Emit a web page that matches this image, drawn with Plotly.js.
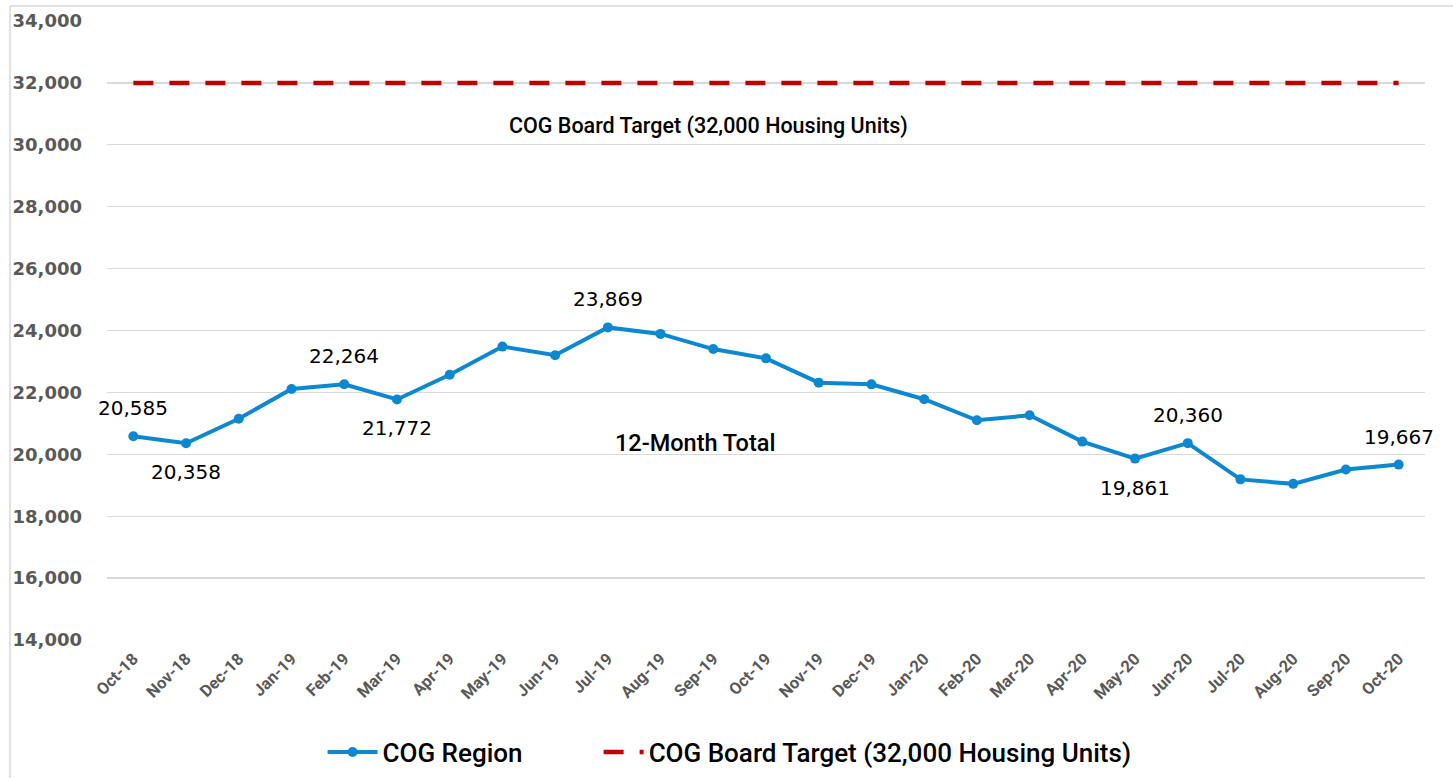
<!DOCTYPE html>
<html>
<head>
<meta charset="utf-8">
<script src="https://cdn.plot.ly/plotly-3.0.1.min.js"></script>
<style>
html,body{margin:0;padding:0;background:#fff;}
#chart{width:1453px;height:781px;}
</style>
</head>
<body>
<div id="chart"></div>
<script>
var months = ["Oct-18","Nov-18","Dec-18","Jan-19","Feb-19","Mar-19","Apr-19","May-19","Jun-19","Jul-19","Aug-19","Sep-19","Oct-19","Nov-19","Dec-19","Jan-20","Feb-20","Mar-20","Apr-20","May-20","Jun-20","Jul-20","Aug-20","Sep-20","Oct-20"];
var cogRegion = [20585,20358,21150,22110,22264,21772,22570,23480,23200,24100,23890,23400,23100,22315,22260,21780,21100,21260,20410,19861,20360,19190,19045,19510,19667];
var boardTarget = [32000,32000,32000,32000,32000,32000,32000,32000,32000,32000,32000,32000,32000,32000,32000,32000,32000,32000,32000,32000,32000,32000,32000,32000,32000];
var labelMonths = ["Oct-18","Nov-18","Feb-19","Mar-19","Jul-19","May-20","Jun-20","Oct-20"];
var labelTexts = ["20,585","20,358","22,264","21,772","23,869","19,861","20,360","19,667"];
var labelSides = ["above","below","above","below","above","below","above","above"];
var yTicks = [14000,16000,18000,20000,22000,24000,26000,28000,30000,32000,34000];

var traces = [
  {
    x: months, y: cogRegion, name: "COG Region", type: "scatter", mode: "lines+markers",
    line: {color: "#0d88d0", width: 4},
    marker: {color: "#0d88d0", size: 10},
    hoverinfo: "x+y", legend: "legend"
  },
  {
    x: months, y: boardTarget, name: "COG Board Target (32,000 Housing Units)", type: "scatter", mode: "lines",
    line: {color: "#c00000", width: 4.5, dash: "20px,16px"},
    hoverinfo: "x+y", legend: "legend2"
  }
];

var annotations = labelMonths.map(function(m, i){
  var idx = months.indexOf(m);
  return {
    x: m, y: cogRegion[idx], xref: "x", yref: "y",
    text: labelTexts[i], showarrow: false,
    yshift: labelSides[i] === "above" ? 28 : -29,
    font: {family: "DejaVu Sans", size: 20, color: "#000"}
  };
});
annotations.push({
  x: 10.9, y: 30600, xref: "x", yref: "y", text: "COG Board Target (32,000 Housing Units)",
  showarrow: false, font: {family: "Roboto", size: 21.5, color: "#000", weight: 500}
});
annotations.push({
  x: 10.65, y: 20360, xref: "x", yref: "y", text: "12-Month Total",
  showarrow: false, font: {family: "Roboto", size: 23.5, color: "#000", weight: 500}
});

var legendFont = {family: "Roboto", size: 26, color: "#000", weight: 500};

var layout = {
  width: 1453, height: 781,
  margin: {l: 107, r: 28, t: 21, b: 141, pad: 0},
  paper_bgcolor: "#fff", plot_bgcolor: "#fff",
  showlegend: true,
  legend: {
    orientation: "h", xref: "container", yref: "container",
    x: 0.222, xanchor: "left", y: 0.037, yanchor: "middle",
    font: legendFont, itemwidth: 50
  },
  legend2: {
    orientation: "h", xref: "container", yref: "container",
    x: 0.412, xanchor: "left", y: 0.037, yanchor: "middle",
    font: legendFont, itemwidth: 40
  },
  xaxis: {
    type: "category", range: [-0.5, 24.5], tickangle: -45,
    showgrid: false, zeroline: false, showline: false, ticks: "",
    tickfont: {family: "Roboto", size: 16.5, color: "#595959", weight: "bold"},
    automargin: false, ticklabelstandoff: 5
  },
  yaxis: {
    range: [14000, 34000], tickvals: yTicks, tickformat: ",d",
    showgrid: true, gridcolor: "#d9d9d9", gridwidth: 1.3, zeroline: false, showline: false, ticks: "",
    tickfont: {family: "DejaVu Sans", size: 18, color: "#595959", weight: "bold"},
    automargin: false, ticklabelstandoff: 24
  },
  annotations: annotations,
  shapes: [
    {type: "line", xref: "paper", yref: "paper", x0: (10-107)/1318, x1: (10-107)/1318, y0: 1 + (21-778)/619, y1: 1 + (21-6)/619, line: {color: "#d9d9d9", width: 1.5}},
    {type: "line", xref: "paper", yref: "paper", x0: (10-107)/1318, x1: (1453-107)/1318, y0: 1 + (21-6)/619, y1: 1 + (21-6)/619, line: {color: "#d9d9d9", width: 1.5}}
  ]
};

Plotly.newPlot("chart", traces, layout, {displayModeBar: false, staticPlot: true});
</script>
</body>
</html>
